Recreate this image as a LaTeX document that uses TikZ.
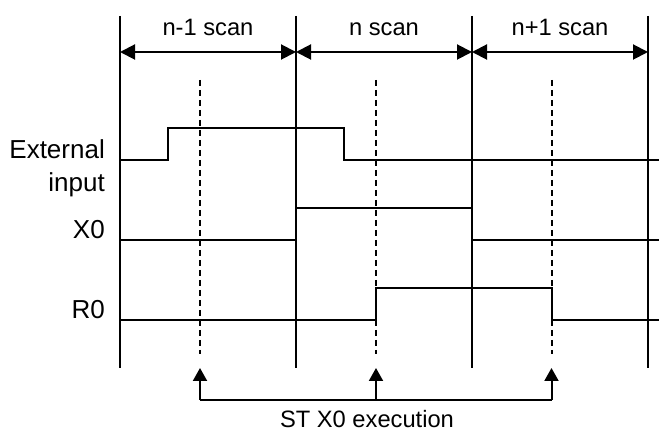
\documentclass[tikz,border=0pt]{standalone}
\usepackage{fontspec}
\setmainfont{Liberation Sans}
\usetikzlibrary{arrows.meta}
\begin{document}
\begin{tikzpicture}[x=1pt,y=-1pt,
  solidline/.style={line width=2pt,draw=black},
  dashline/.style={line width=2pt,draw=black,dash pattern=on 6pt off 4pt},
  sig/.style={line width=2pt,draw=black},
  scanarrow/.style={line width=2pt,{Triangle[length=15pt,width=15pt]}-{Triangle[length=15pt,width=15pt]}},
  uparrow/.style={line width=2pt,-{Triangle[length=13pt,width=14pt]}},
  scanlabel/.style={font=\fontsize{23.7}{28}\selectfont,anchor=base,inner sep=0pt},
  siglabel/.style={font=\fontsize{26}{30}\selectfont,anchor=base east,inner sep=0pt},
  botlabel/.style={font=\fontsize{23.7}{28}\selectfont,anchor=base,inner sep=0pt}]
\useasboundingbox (0,0) rectangle (659,435);
% vertical scan boundaries
\foreach \i/\x in {0/120,1/296,2/472,3/648}{
  \coordinate (vt\i) at (\x,16);
  \coordinate (vb\i) at (\x,368);
  \coordinate (a\i) at (\x,52);
  \draw[solidline] (vt\i) -- (vb\i);
}
% scan arrows
\draw[scanarrow] (a0) -- (a1);
\draw[scanarrow] (a1) -- (a2);
\draw[scanarrow] (a2) -- (a3);
\node[scanlabel] (s1) at (208,36) {n-1 scan};
\node[scanlabel] (s2) at (384,36) {n scan};
\node[scanlabel] (s3) at (560,36) {n+1 scan};
% dashed execution lines
\foreach \i/\x in {1/200,2/376,3/551.5}{
  \coordinate (dt\i) at (\x,80);
  \coordinate (db\i) at (\x,354);
  \draw[dashline] (dt\i) -- (db\i);
}
% External input
\draw[sig] (120,160) -- (167.5,160) -- (167.5,128.3) -- (344,128.3) -- (344,160) -- (659,160);
% X0
\draw[sig] (120,240) -- (296,240) -- (296,208.3) -- (472,208.3) -- (472,240) -- (659,240);
% R0
\draw[sig] (120,320) -- (376,320) -- (376,288) -- (551.5,288) -- (551.5,320) -- (659,320);
% labels
\node[siglabel] (l1) at (105,159) {External};
\node[siglabel] (l2) at (105,192) {input};
\node[siglabel] (l3) at (105,239) {X0};
\node[siglabel] (l4) at (105,319) {R0};
% ST X0 execution arrows
\coordinate (b1) at (200,400);
\coordinate (b2) at (376,400);
\coordinate (b3) at (551.5,400);
\coordinate (u1) at (200,368);
\coordinate (u2) at (376,368);
\coordinate (u3) at (551.5,368);
\draw[line width=2pt] (b1) -- (b3);
\draw[uparrow] (b1) -- (u1);
\draw[uparrow] (b2) -- (u2);
\draw[uparrow] (b3) -- (u3);
\node[botlabel] (ex) at (367,428) {ST X0 execution};
\end{tikzpicture}
\end{document}
